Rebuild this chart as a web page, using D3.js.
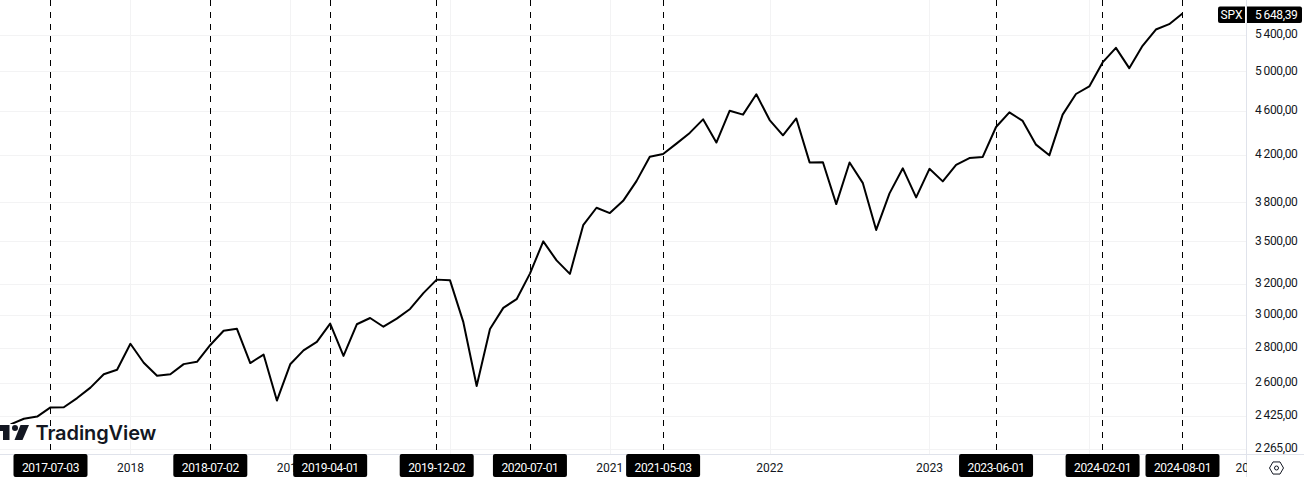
<!DOCTYPE html>
<html><head><meta charset="utf-8">
<script src="https://cdn.jsdelivr.net/npm/d3@7"></script>
<style>html,body{margin:0;padding:0;background:#fff;overflow:hidden}svg{display:block}text{font-family:Roboto,"Liberation Sans",sans-serif}</style>
</head><body><svg id="c" width="1304" height="477"></svg>
<script>
const closes = [2384,2412,2423,2470,2471,2519,2575,2648,2673,
2823,2713,2640,2648,2705,2718,2816,2901,2913,2711,2760,2506,
2704,2784,2834,2945,2752,2941,2980,2926,2976,3037,3140,3230,
3225,2954,2584,2912,3044,3100,3271,3500,3363,3269,3621,3756,
3714,3811,3972,4181,4204,4297,4395,4522,4307,4605,4567,4766,
4515,4373,4530,4131,4132,3785,4130,3955,3585,3871,4080,3839,
4076,3970,4109,4169,4179,4450,4589,4507,4288,4193,4567,4769,
4845,5096,5254,5035,5277,5460,5522,5648];
const priceTicks = [5400,5000,4600,4200,3800,3500,3200,3000,2800,2600,2425,2265];
const yearLabels = [[2018,9],[2019,21],[2020,33],[2021,45],[2022,57],[2023,69],[2024,81],[2025,93]];
const markers = [["2017-07-03",3],["2018-07-02",15],["2019-04-01",24],["2019-12-02",32],["2020-07-01",39],["2021-05-03",49],["2023-06-01",74],["2024-02-01",82],["2024-08-01",88]];
const lastLabel = "5\u2009648,39", symbol = "SPX";

const svg = d3.select("#c");
const x = d3.scaleLinear().domain([3,88]).range([50.5,1182.5]);
const y = d3.scaleLog().domain([2265,5400]).range([448.7,34.8]);
const fmt = v => { const s = String(v); return s[0]+"\u2009"+s.slice(1)+",00"; };
const FS = 12, LS = "-0.35px";

const plot = svg.append("g");
plot.selectAll(".h").data(priceTicks).join("line").attr("x1",0).attr("x2",1246)
  .attr("y1",d=>Math.round(y(d))+.5).attr("y2",d=>Math.round(y(d))+.5).attr("stroke","#f3f3f4");
plot.selectAll(".v").data(yearLabels).join("line").filter(d=>x(d[1])<1246)
  .attr("x1",d=>Math.round(x(d[1]))+.5).attr("x2",d=>Math.round(x(d[1]))+.5).attr("y1",0).attr("y2",454).attr("stroke","#f3f3f4");
plot.selectAll(".m").data(markers).join("line")
  .attr("x1",d=>Math.floor(x(d[1])+.2)+.5).attr("x2",d=>Math.floor(x(d[1])+.2)+.5).attr("y1",0).attr("y2",454)
  .attr("stroke","#000").attr("stroke-dasharray","6 6");

const line = d3.line().x((d,i)=>x(i)).y(d=>y(d));
svg.append("path").attr("d",line(closes)).attr("fill","none").attr("stroke","#000").attr("stroke-width",2).attr("stroke-linejoin","round");

// logo
const logo = svg.append("g").attr("fill","#131722");
logo.append("rect").attr("x",0).attr("y",424).attr("width",33).attr("height",18).attr("fill","#fff");
logo.append("path").attr("d","M0 425H9.5V440H3V431H0Z");
logo.append("circle").attr("cx",15).attr("cy",428).attr("r",3);
logo.append("path").attr("d","M20.5 425H29L22.5 440H14.5Z");
logo.append("text").attr("x",35.5).attr("y",440).attr("font-size",20).attr("font-weight",600).style("font-family","Inter").style("letter-spacing","-0.1px").text("TradingView");

// axes frame
svg.append("rect").attr("x",1246).attr("y",0).attr("width",58).attr("height",477).attr("fill","#fff");
svg.append("rect").attr("x",0).attr("y",454).attr("width",1304).attr("height",23).attr("fill","#fff");
svg.append("line").attr("x1",1246.5).attr("x2",1246.5).attr("y1",0).attr("y2",477).attr("stroke","#e0e3eb");
svg.append("line").attr("x1",0).attr("x2",1304).attr("y1",454.5).attr("y2",454.5).attr("stroke","#e0e3eb");

svg.selectAll(".p").data(priceTicks).join("text").attr("x",1297.5).attr("y",d=>y(d)+3.3)
  .attr("text-anchor","end").attr("font-size",FS).style("letter-spacing",LS).attr("fill","#131722").text(fmt);

const xAxis = svg.append("g");
xAxis.selectAll(".yl").data(yearLabels).join("text").attr("x",d=>x(d[1])).attr("y",471.5)
  .attr("text-anchor","middle").attr("font-size",FS).attr("fill","#131722").text(d=>d[0]);
svg.append("rect").attr("x",1247).attr("y",455).attr("width",57).attr("height",22).attr("fill","#fff");

const tag = svg.selectAll(".t").data(markers).join("g");
tag.append("rect").attr("x",d=>x(d[1])-37).attr("y",454).attr("width",74).attr("height",23).attr("rx",2).attr("fill","#000");
tag.append("text").attr("x",d=>x(d[1])).attr("y",471.5).attr("text-anchor","middle").attr("font-size",FS).style("letter-spacing",LS).attr("fill","#fff").text(d=>d[0]);

// last price tags
svg.append("path").attr("d","M1245 6.5H1220a2 2 0 0 0 -2 2V21a2 2 0 0 0 2 2H1245Z").attr("fill","#000");
svg.append("text").attr("x",1231.5).attr("y",19).attr("text-anchor","middle").attr("font-size",FS).attr("fill","#fff").text(symbol);
svg.append("path").attr("d","M1247 6.5H1300a2 2 0 0 1 2 2V21a2 2 0 0 1 -2 2H1247Z").attr("fill","#000");
svg.append("text").attr("x",1297.5).attr("y",19).attr("text-anchor","end").attr("font-size",FS).style("letter-spacing",LS).attr("fill","#fff").text(lastLabel);

// settings icon
const g = svg.append("g").attr("transform","translate(1276.5,468)").attr("fill","none").attr("stroke","#131722");
g.append("path").attr("d",d3.line().curve(d3.curveLinearClosed)(d3.range(6).map(i=>[7*Math.cos(i*Math.PI/3),7*Math.sin(i*Math.PI/3)])));
g.append("circle").attr("r",2);
</script></body></html>
